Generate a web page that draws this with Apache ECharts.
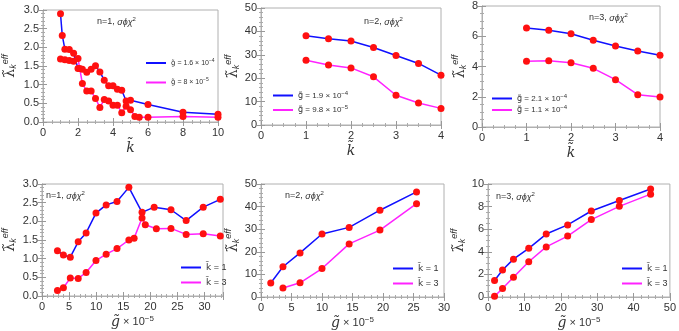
<!DOCTYPE html>
<html>
<head>
<meta charset="utf-8">
<script src="https://cdn.jsdelivr.net/npm/echarts@6/dist/echarts.min.js"></script>
<style>
  html, body { margin: 0; padding: 0; background: #fff; }
  #chart { width: 679px; height: 331px; }
</style>
</head>
<body>
<div id="chart"></div>
<script>
// panel 1: n=1, lambda vs k
const p1BlueK = [1, 1.1, 1.25, 1.5, 1.75, 2, 2.25, 2.5, 2.75, 3, 3.25, 3.5, 3.75, 4, 4.25, 4.5, 4.75, 5, 6, 8, 10];
const p1BlueY = [2.9, 2.32, 1.95, 1.94, 1.84, 1.43, 1.41, 1.33, 1.41, 1.51, 1.34, 1.12, 0.97, 0.97, 0.88, 0.85, 0.56, 0.58, 0.47, 0.26, 0.21];
const p1MagK = [1, 1.25, 1.5, 1.75, 2, 2.1, 2.25, 2.5, 2.75, 3, 3.25, 3.5, 3.75, 4, 4.25, 4.5, 4.75, 5, 5.25, 5.5, 6, 8, 10];
const p1MagY = [1.69, 1.67, 1.65, 1.63, 1.70, 1.43, 1.03, 0.83, 0.83, 0.63, 0.39, 0.6, 0.56, 0.45, 0.45, 0.25, 0.42, 0.33, 0.15, 0.13, 0.13, 0.15, 0.13];

// panels 2 and 3 share k values
const kVals = [1, 1.5, 2, 2.5, 3, 3.5, 4];
const p2BlueY = [38.1, 36.9, 35.9, 33.1, 29.7, 26.3, 21.3];
const p2MagY = [27.7, 25.6, 24.4, 20.6, 12.7, 9.4, 7.1];
const p3BlueY = [6.54, 6.39, 6.17, 5.73, 5.35, 5.02, 4.74];
const p3MagY = [4.34, 4.38, 4.25, 3.88, 3.13, 2.14, 1.98];

// panel 4: n=1, lambda vs g
const p4BlueG = [2.85, 3.95, 5.22, 6.68, 8.14, 9.96, 11.84, 13.84, 16.03, 18.46, 20.7, 23.8, 26.6, 29.75, 32.9];
const p4BlueY = [1.21, 1.10, 1.04, 1.45, 1.69, 2.22, 2.44, 2.53, 2.91, 2.24, 2.38, 2.31, 2.02, 2.38, 2.59];
const p4MagG = [2.85, 3.95, 5.22, 6.68, 8.14, 9.96, 11.84, 13.84, 16.03, 17.0, 18.46, 19.06, 21.1, 23.8, 26.6, 29.75, 32.9];
const p4MagY = [0.15, 0.22, 0.48, 0.47, 0.63, 0.95, 1.12, 1.27, 1.5, 1.55, 2.09, 1.91, 1.8, 1.81, 1.65, 1.67, 1.61];

// panel 5: n=2
const p5BlueG = [1.6, 3.6, 6.4, 10, 14.45, 19.5, 25.5];
const p5BlueY = [6.2, 13.4, 19.5, 27.9, 30.8, 38.4, 46.5];
const p5MagG = [3.6, 6.4, 10, 14.45, 19.5, 25.5];
const p5MagY = [4.0, 6.3, 12.6, 23.5, 29.6, 41.3];

// panel 6: n=3
const p6G = [1.8, 4, 7, 11.2, 16, 21.9, 28.4, 36.1, 44.7];
const p6BlueY = [1.46, 2.39, 3.35, 4.31, 5.57, 6.38, 7.61, 8.54, 9.56];
const p6MagY = [0.06, 0.76, 1.75, 3.12, 4.43, 5.39, 6.85, 8.02, 9.1];

// legend labels: [mantissa, exponent]
const legendTop = [['1.6', '−4'], ['8', '−5'], ['1.9', '−4'], ['9.8', '−5'], ['2.1', '−4'], ['1.1', '−4']];
const legendBottom = ['1', '3'];
const panelTitles = ['n=1, ', 'n=2, ', 'n=3, ', 'n=1, ', 'n=2, ', 'n=3, '];

const BLUE = '#1010ff';
const MAGENTA = '#ff22ff';
const FONT = 'Liberation Sans';

function zip(xs, ys) {
  return xs.map((x, i) => [x, ys[i]]);
}

const topNames = legendTop.map(l => 'g = ' + l[0] + 'e' + l[1]);
const botNames = legendBottom.map(k => 'k = ' + k);
const legendText = {};
legendTop.forEach((l, i) => { legendText[topNames[i]] = '{g|g̃}{v| = ' + l[0] + ' × 10}{s|' + l[1] + '}'; });
legendBottom.forEach((k, i) => { legendText[botNames[i]] = '{g|k̃}{v| = ' + k + '}'; });

// grid boxes and axis ranges
const panels = [
  { left: 40, top: 10, width: 178, height: 112, x: [0, 10, 2, 4], y: [0, 3, 0.5, 5], dec: 1, yGap: 23, xName: 'k' },
  { left: 261, top: 8, width: 180, height: 117, x: [0, 4, 1, 4], y: [0, 50, 10, 5], dec: 0, yGap: 18, xName: 'k' },
  { left: 482, top: 6, width: 178, height: 121, x: [0, 4, 1, 4], y: [0, 8, 2, 4], dec: 0, yGap: 12, xName: 'k' },
  { left: 39, top: 184, width: 184, height: 112, x: [0, 33.4, 5, 5], y: [0, 3, 0.5, 5], dec: 1, yGap: 22, xName: 'g' },
  { left: 261, top: 184, width: 183, height: 114, x: [0, 30, 5, 5], y: [0, 50, 10, 5], dec: 0, yGap: 17, xName: 'g' },
  { left: 488, top: 184, width: 184, height: 114, x: [0, 50, 10, 5], y: [0, 10, 2, 4], dec: 0, yGap: 19, xName: 'g' }
];

const grid = [], xAxis = [], yAxis = [];
panels.forEach((p, i) => {
  grid.push({ left: p.left, top: p.top, width: p.width, height: p.height, show: true, borderColor: '#b0b0b0', borderWidth: 1 });
  const tick = { show: true, inside: true, length: 4, lineStyle: { color: '#999' } };
  const axLine = { show: true, lineStyle: { color: '#b0b0b0' } };
  const xMinor = { show: true, splitNumber: p.x[3], length: 2, lineStyle: { color: '#aaa' } };
  const yMinor = { show: true, splitNumber: p.y[3], length: 2, lineStyle: { color: '#aaa' } };
  const xName = p.xName === 'k'
    ? '{k|k̃}'
    : '{k|g̃}{t| × 10}{s|−5}';
  xAxis.push({
    gridIndex: i, type: 'value', position: 'bottom', min: p.x[0], max: p.x[1], interval: p.x[2],
    axisLine: axLine, axisTick: tick, minorTick: xMinor, splitLine: { show: false },
    axisLabel: {
      color: '#333', fontSize: 11, fontFamily: FONT, margin: 5,
      formatter: v => (Math.abs(v / p.x[2] - Math.round(v / p.x[2])) < 1e-6 ? String(v) : '')
    },
    name: xName, nameLocation: 'middle', nameGap: 19,
    nameTextStyle: {
      rich: {
        k: { fontSize: 14, fontStyle: 'italic', fontFamily: 'DejaVu Serif', color: '#333' },
        t: { fontSize: 11, fontFamily: FONT, color: '#333' },
        s: { fontSize: 8, fontFamily: FONT, color: '#333', verticalAlign: 'top', padding: [0, 0, 6, 0] }
      }
    }
  });
  xAxis.push({
    gridIndex: i, type: 'value', position: 'top', min: p.x[0], max: p.x[1], interval: p.x[2],
    axisLine: axLine, axisTick: tick, minorTick: xMinor, splitLine: { show: false }, axisLabel: { show: false }
  });
  yAxis.push({
    gridIndex: i, type: 'value', position: 'left', min: p.y[0], max: p.y[1], interval: p.y[2],
    axisLine: axLine, axisTick: tick, minorTick: yMinor, splitLine: { show: false },
    axisLabel: { color: '#333', fontSize: 11, fontFamily: FONT, margin: 4, formatter: v => v.toFixed(p.dec) },
    name: '{l|λ̃}{k|k}{e|eff}', nameLocation: 'middle', nameRotate: 90, nameGap: p.yGap,
    nameTextStyle: {
      rich: {
        l: { fontSize: 14, fontFamily: 'DejaVu Serif', color: '#333' },
        k: { fontSize: 9, fontStyle: 'italic', fontFamily: FONT, color: '#333', padding: [6, 0, 0, 0] },
        e: { fontSize: 9, fontStyle: 'italic', fontFamily: FONT, color: '#333', padding: [0, 0, 10, 0] }
      }
    }
  });
  yAxis.push({
    gridIndex: i, type: 'value', position: 'right', min: p.y[0], max: p.y[1], interval: p.y[2],
    axisLine: axLine, axisTick: tick, minorTick: yMinor, splitLine: { show: false }, axisLabel: { show: false }
  });
});

function lineSeries(name, panel, data, color) {
  return {
    name: name, type: 'line', xAxisIndex: panel * 2, yAxisIndex: panel * 2, data: data,
    symbol: 'circle', symbolSize: 7, itemStyle: { color: '#ff1010' },
    lineStyle: { color: color, width: 1.5 }, animation: false, z: 3
  };
}

const series = [
  lineSeries(topNames[0], 0, zip(p1BlueK, p1BlueY), BLUE),
  lineSeries(topNames[1], 0, zip(p1MagK, p1MagY), MAGENTA),
  lineSeries(topNames[2], 1, zip(kVals, p2BlueY), BLUE),
  lineSeries(topNames[3], 1, zip(kVals, p2MagY), MAGENTA),
  lineSeries(topNames[4], 2, zip(kVals, p3BlueY), BLUE),
  lineSeries(topNames[5], 2, zip(kVals, p3MagY), MAGENTA),
  lineSeries(botNames[0], 3, zip(p4BlueG, p4BlueY), BLUE),
  lineSeries(botNames[1], 3, zip(p4MagG, p4MagY), MAGENTA),
  lineSeries(botNames[0], 4, zip(p5BlueG, p5BlueY), BLUE),
  lineSeries(botNames[1], 4, zip(p5MagG, p5MagY), MAGENTA),
  lineSeries(botNames[0], 5, zip(p6G, p6BlueY), BLUE),
  lineSeries(botNames[1], 5, zip(p6G, p6MagY), MAGENTA)
];

// legend boxes: left, top, gap, font size, names
const legendPos = [
  [141, 53, 11, 7, topNames[0], topNames[1]],
  [268, 85, 5, 8, topNames[2], topNames[3]],
  [487, 88, 2, 8, topNames[4], topNames[5]],
  [176, 258, 6, 9, botNames[0], botNames[1]],
  [388, 259, 6, 9, botNames[0], botNames[1]],
  [617, 259, 6, 9, botNames[0], botNames[1]]
];
const legend = legendPos.map(l => ({
  left: l[0], top: l[1], orient: 'vertical', itemGap: l[2], itemWidth: 20, itemHeight: 2,
  icon: 'rect', selectedMode: false,
  formatter: name => legendText[name],
  textStyle: {
    color: '#333',
    rich: {
      g: { fontSize: l[3], fontFamily: 'DejaVu Sans', color: '#333' },
      v: { fontSize: l[3], fontFamily: FONT, color: '#333' },
      s: { fontSize: l[3] - 2, fontFamily: FONT, color: '#333', padding: [0, 0, 5, 0] }
    }
  },
  data: [
    { name: l[4], itemStyle: { color: BLUE } },
    { name: l[5], itemStyle: { color: MAGENTA } }
  ]
}));

const titlePos = [[97, 16], [364, 16], [589, 12], [46, 190], [285, 190], [496, 191]];
const title = titlePos.map((t, i) => ({
  left: t[0], top: t[1], padding: 0,
  text: '{a|' + panelTitles[i] + '}{b|σϕχ}{c|2}',
  textStyle: {
    fontWeight: 'normal',
    rich: {
      a: { fontSize: 9, fontFamily: FONT, fontWeight: 'normal', color: '#333' },
      b: { fontSize: 9, fontFamily: FONT, fontWeight: 'normal', fontStyle: 'italic', color: '#333' },
      c: { fontSize: 6, fontFamily: FONT, fontWeight: 'normal', color: '#333', padding: [0, 0, 6, 0] }
    }
  }
}));

const chart = echarts.init(document.getElementById('chart'));
chart.setOption({
  backgroundColor: '#fff',
  animation: false,
  title: title,
  legend: legend,
  grid: grid,
  xAxis: xAxis,
  yAxis: yAxis,
  series: series
});
</script>
</body>
</html>
